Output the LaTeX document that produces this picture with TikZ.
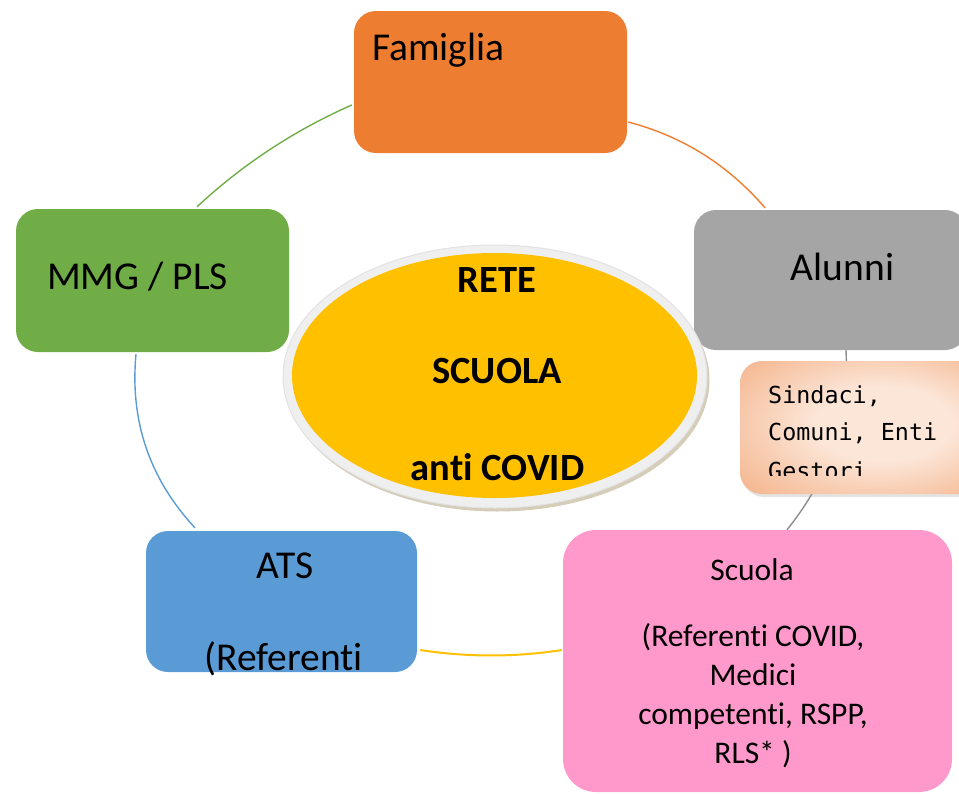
\documentclass[tikz,border=0pt]{standalone}
\usepackage{fontspec}
\setmainfont[Ligatures={NoCommon}]{Carlito}
\newfontfamily\sinfont{DejaVu Sans Mono}
\usetikzlibrary{shapes.geometric,calc,shadows}
\definecolor{cOrange}{HTML}{ED7D31}
\definecolor{cGrey}{HTML}{A5A5A5}
\definecolor{cGreen}{HTML}{70AD47}
\definecolor{cBlue}{HTML}{5B9BD5}
\definecolor{cPink}{HTML}{FF99CC}
\definecolor{cYellow}{HTML}{FFC000}
\definecolor{cLine}{HTML}{8C8C8C}
\definecolor{cRing}{HTML}{EFEFEF}
\definecolor{cRingEdge}{HTML}{E2E2E2}
\definecolor{cShadow}{HTML}{D6CDB9}
\definecolor{pchIn}{HTML}{FCE6D8}
\definecolor{pchOut}{HTML}{F2A879}
\pgfdeclareradialshading{peach}{\pgfpoint{6bp}{2bp}}{color(0bp)=(pchIn); color(14bp)=(pchIn); color(42bp)=(pchOut); color(50bp)=(pchOut)}
\begin{document}
\begin{tikzpicture}[x=1pt,y=-1pt,
  box/.style={rectangle, rounded corners=22pt, inner sep=0pt, draw=none},
  lbl/.style={anchor=base, inner sep=0pt, font=\fontsize{39.5}{47}\selectfont},
  slbl/.style={anchor=base, inner sep=0pt, font=\fontsize{31.5}{38}\selectfont},
  blbl/.style={anchor=base, inner sep=0pt, font=\bfseries\fontsize{38.5}{46}\selectfont},
  mlbl/.style={anchor=base west, inner sep=0pt, font=\sinfont\fontsize{23.4}{28}\selectfont, text=black},
  arcline/.style={line width=1.4pt}]
\useasboundingbox (0,0) rectangle (959,793);
\clip (0,0) rectangle (959,793);

% boxes
\node[box, fill=cOrange, minimum width=273pt, minimum height=142pt] (fam) at (490.5,82) {};
\node[box, fill=cGrey, minimum width=273pt, minimum height=140pt] (alu) at (830.5,280) {};
\node[box, fill=cGreen, minimum width=273pt, minimum height=143pt] (mmg) at (152.5,280.5) {};
\node[box, fill=cBlue, minimum width=271pt, minimum height=141pt] (ats) at (281.5,601.5) {};
\node[box, rounded corners=33pt, fill=cPink, minimum width=389pt, minimum height=262pt] (scu) at (757.5,661) {};

% connecting arcs
\draw[arcline, draw=cGreen] ($(fam.west)+(-2,23)$) .. controls (295,130) and (243,164) .. ($(mmg.north)+(44.5,-2)$);
\draw[arcline, draw=cOrange] ($(fam.east)+(1,40)$) .. controls (683.6,136.6) and (728.2,165.2) .. ($(alu.north)+(-65.5,-2)$);
\draw[arcline, draw=cBlue] ($(mmg.south)+(-16.5,2)$) .. controls (129.8,420.8) and (149.4,478.8) .. ($(ats.north)+(-86.5,-3)$);
\draw[line width=2pt, draw=cYellow] ($(ats.east)+(3,48.5)$) .. controls (467.3,657.3) and (514.7,657.3) .. ($(scu.west)+(-1,-11)$);
\draw[arcline, draw=cLine] ($(alu.south)+(15.5,0)$) .. controls (849,410) and (835,470) .. ($(scu.north)+(29.5,0)$);

% central ellipse
\node[ellipse, fill=cShadow, inner sep=0pt, minimum width=424pt, minimum height=263pt] (esh) at (497.5,380) {};
\node[ellipse, fill=cRing, draw=cRingEdge, line width=1pt, inner sep=0pt, minimum width=424pt, minimum height=263pt] (ering) at (495,376.5) {};
\node[ellipse, fill=cYellow, inner sep=0pt, minimum width=405pt, minimum height=245pt] (ecore) at (494.5,375.5) {};

% Sindaci box
\node[box, shade, shading=peach, minimum width=245pt, minimum height=133pt,
      drop shadow={opacity=0.22, shadow xshift=2pt, shadow yshift=-3pt}] (sin) at (862.5,427.5) {};

% texts
\node[lbl] (tfam) at (438.5,60) {Famiglia};
\node[lbl] (talu) at (842.5,280) {Alunni};
\node[lbl] (tmmg) at (137.5,289) {MMG / PLS};
\node[lbl] (tats) at (285,578) {ATS};
\node[lbl] (tats2) at (283.5,670) {(Referenti};

\node[slbl] (tscu1) at (752,580) {Scuola};
\node[slbl] (tscu2) at (753,646.7) {(Referenti COVID,};
\node[slbl] (tscu3) at (753,685.5) {Medici};
\node[slbl] (tscu4) at (753,724.5) {competenti, RSPP,};
\node[slbl] (tscu5) at (753,763) {RLS* )};

\node[blbl] (tr1) at (497,292.7) {RETE};
\node[blbl] (tr2) at (497,383.3) {SCUOLA};
\node[blbl] (tr3) at (497.5,480.7) {anti COVID};

\begin{scope}
\clip (740,361) rectangle (959,475);
\node[mlbl] (ts1) at (768,403) {Sindaci,};
\node[mlbl] (ts2) at (768,440) {Comuni, Enti};
\node[mlbl] (ts3) at (768,479) {Gestori};
\end{scope}
\end{tikzpicture}
\end{document}
